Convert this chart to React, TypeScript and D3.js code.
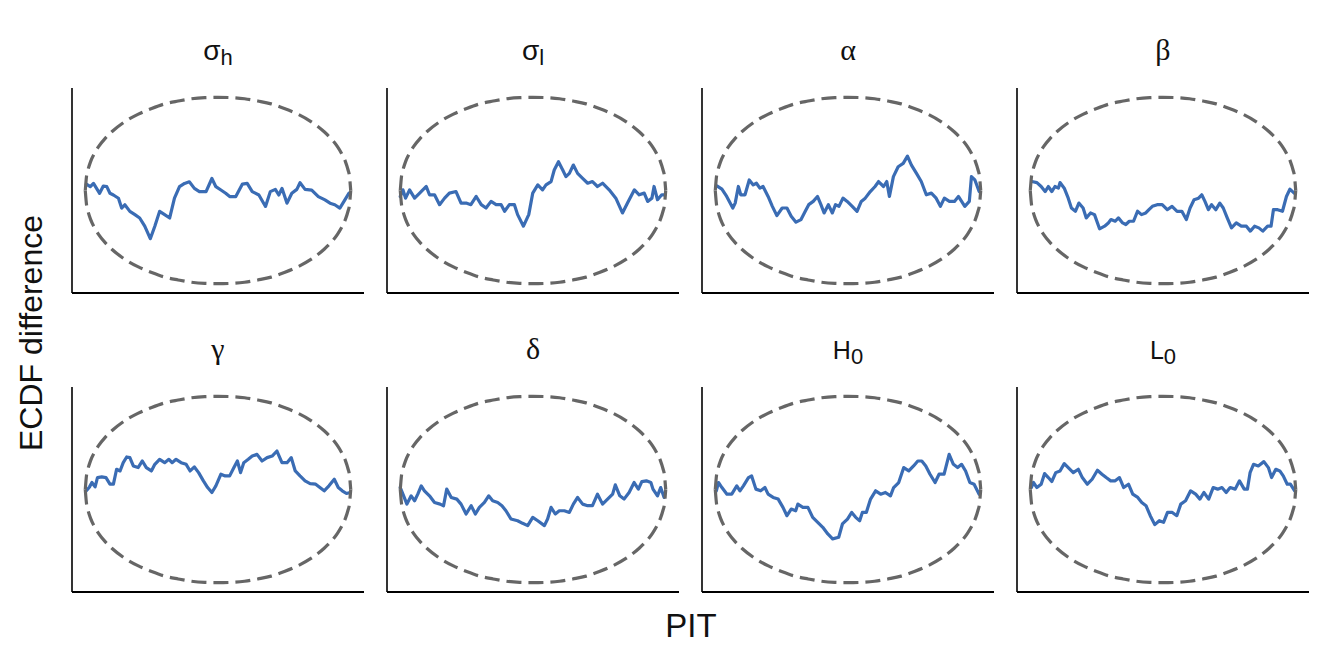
import React from "react";
import * as d3 from "d3";

// Panel titles: main symbol + subscript
const panelTitles = ["σ", "σ", "α", "β", "γ", "δ", "H", "L"];
const panelSubs = ["h", "l", "", "", "", "", "0", "0"];

// Simultaneous confidence envelope (normalized so that its peak = 1)
const envX = [0, 0.005, 0.01, 0.02, 0.035, 0.05, 0.075, 0.1, 0.15, 0.2, 0.25, 0.3, 0.35, 0.4, 0.45, 0.5,
  0.55, 0.6, 0.65, 0.7, 0.75, 0.8, 0.85, 0.9, 0.925, 0.95, 0.965, 0.98, 0.99, 0.995, 1];
const envUpper = [0, 0.16, 0.22, 0.31, 0.4, 0.47, 0.56, 0.63, 0.74, 0.82, 0.88, 0.93, 0.96, 0.985, 0.997, 1,
  0.997, 0.985, 0.96, 0.93, 0.88, 0.82, 0.74, 0.63, 0.56, 0.47, 0.4, 0.31, 0.22, 0.16, 0];
const envLower = [0, -0.16, -0.22, -0.31, -0.4, -0.47, -0.56, -0.63, -0.74, -0.82, -0.88, -0.93, -0.96, -0.985, -0.997, -1,
  -0.997, -0.985, -0.96, -0.93, -0.88, -0.82, -0.74, -0.63, -0.56, -0.47, -0.4, -0.31, -0.22, -0.16, 0];

// ECDF difference traces, [PIT, normalized difference]
const traceSigmaH: [number, number][] = [
  [0.004, 0.069], [0.019, 0.041], [0.031, 0.076], [0.054, -0.03], [0.068, 0.048], [0.081, 0.041], [0.093, -0.03],
  [0.106, -0.048], [0.125, -0.083], [0.137, -0.189], [0.149, -0.153], [0.168, -0.224], [0.187, -0.259], [0.205, -0.295],
  [0.224, -0.383], [0.245, -0.517], [0.262, -0.383], [0.28, -0.224], [0.299, -0.259], [0.318, -0.295], [0.336, -0.083],
  [0.355, 0.041], [0.374, 0.076], [0.392, 0.093], [0.411, 0.023], [0.43, -0.012], [0.455, -0.012], [0.477, 0.129],
  [0.492, 0.041], [0.511, 0.005], [0.529, -0.03], [0.544, -0.065], [0.567, -0.065], [0.592, 0.069], [0.61, 0.076],
  [0.629, -0.012], [0.654, -0.048], [0.679, -0.171], [0.697, -0.012], [0.716, 0.012], [0.729, -0.048], [0.741, 0.023],
  [0.76, -0.136], [0.778, -0.03], [0.797, 0.012], [0.809, 0.083], [0.828, 0.012], [0.853, 0.005], [0.878, -0.065],
  [0.903, -0.101], [0.922, -0.136], [0.94, -0.153], [0.959, -0.189], [0.978, -0.101], [0.993, -0.03],
];
const traceSigmaL: [number, number][] = [
  [0.0, -0.064], [0.01, 0.007], [0.02, -0.082], [0.035, 0.007], [0.054, -0.082], [0.073, -0.028], [0.085, 0.007],
  [0.098, 0.043], [0.11, -0.046], [0.129, -0.046], [0.148, -0.152], [0.167, -0.082], [0.185, -0.028], [0.21, -0.011],
  [0.229, -0.135], [0.248, -0.135], [0.266, -0.152], [0.286, -0.064], [0.305, -0.152], [0.323, -0.188], [0.342, -0.117],
  [0.361, -0.152], [0.38, -0.152], [0.393, -0.223], [0.411, -0.152], [0.43, -0.152], [0.442, -0.259], [0.464, -0.383],
  [0.484, -0.259], [0.499, -0.028], [0.518, 0.06], [0.536, 0.007], [0.549, 0.06], [0.568, 0.096], [0.58, 0.22],
  [0.596, 0.309], [0.612, 0.22], [0.624, 0.149], [0.637, 0.184], [0.652, 0.273], [0.668, 0.184], [0.687, 0.131],
  [0.706, 0.078], [0.724, 0.096], [0.743, 0.043], [0.762, 0.078], [0.787, 0.007], [0.812, -0.082], [0.837, -0.241],
  [0.856, -0.135], [0.882, 0.007], [0.9, -0.046], [0.919, -0.028], [0.932, -0.117], [0.948, -0.082], [0.956, 0.043],
  [0.969, -0.099], [0.985, -0.046], [0.997, -0.046],
];
const traceAlpha: [number, number][] = [
  [0.006, 0.05], [0.025, 0.014], [0.043, -0.064], [0.066, -0.188], [0.075, -0.135], [0.087, 0.043], [0.096, -0.046],
  [0.112, -0.046], [0.128, 0.113], [0.143, 0.06], [0.155, 0.078], [0.168, 0.025], [0.18, 0.043], [0.199, -0.064],
  [0.215, -0.17], [0.232, -0.27], [0.252, -0.188], [0.27, -0.188], [0.286, -0.277], [0.304, -0.34], [0.323, -0.312],
  [0.339, -0.223], [0.352, -0.152], [0.369, -0.117], [0.385, -0.064], [0.398, -0.152], [0.41, -0.241], [0.426, -0.152],
  [0.441, -0.241], [0.453, -0.152], [0.466, -0.17], [0.481, -0.082], [0.497, -0.117], [0.516, -0.17], [0.534, -0.223],
  [0.55, -0.117], [0.565, -0.082], [0.584, -0.011], [0.602, 0.043], [0.615, 0.096], [0.634, 0.043], [0.646, 0.096],
  [0.656, -0.064], [0.671, 0.149], [0.689, 0.255], [0.708, 0.291], [0.724, 0.369], [0.739, 0.273], [0.758, 0.184],
  [0.776, 0.096], [0.795, -0.046], [0.814, -0.028], [0.832, -0.082], [0.848, -0.17], [0.863, -0.082], [0.882, -0.117],
  [0.901, -0.117], [0.916, -0.064], [0.928, -0.117], [0.94, -0.17], [0.957, -0.117], [0.965, 0.149], [0.978, 0.113],
  [0.994, -0.011],
];
const traceBeta: [number, number][] = [
  [0.006, 0.096], [0.025, 0.085], [0.041, 0.043], [0.056, -0.011], [0.068, 0.043], [0.081, -0.011], [0.093, 0.043],
  [0.106, 0.025], [0.112, 0.085], [0.128, 0.025], [0.143, -0.082], [0.155, -0.188], [0.17, -0.223], [0.183, -0.135],
  [0.199, -0.188], [0.211, -0.294], [0.227, -0.241], [0.242, -0.259], [0.261, -0.411], [0.28, -0.383], [0.294, -0.348],
  [0.304, -0.312], [0.32, -0.33], [0.332, -0.294], [0.348, -0.348], [0.36, -0.365], [0.373, -0.33], [0.389, -0.33],
  [0.404, -0.223], [0.419, -0.259], [0.435, -0.241], [0.447, -0.206], [0.46, -0.17], [0.478, -0.152], [0.497, -0.152],
  [0.516, -0.206], [0.534, -0.17], [0.553, -0.223], [0.571, -0.223], [0.588, -0.312], [0.602, -0.188], [0.617, -0.099],
  [0.634, -0.082], [0.646, -0.046], [0.658, -0.117], [0.671, -0.206], [0.683, -0.152], [0.699, -0.206], [0.714, -0.135],
  [0.727, -0.188], [0.742, -0.294], [0.758, -0.401], [0.776, -0.348], [0.795, -0.383], [0.814, -0.383], [0.829, -0.436],
  [0.845, -0.383], [0.861, -0.401], [0.876, -0.436], [0.894, -0.383], [0.907, -0.383], [0.916, -0.206], [0.932, -0.206],
  [0.95, -0.223], [0.965, -0.064], [0.978, 0.014], [0.994, -0.028],
];
const traceGamma: [number, number][] = [
  [0.004, -0.014], [0.016, 0.028], [0.025, 0.075], [0.037, 0.028], [0.046, 0.128], [0.062, 0.135], [0.078, 0.128],
  [0.093, 0.057], [0.106, 0.057], [0.118, 0.217], [0.131, 0.199], [0.143, 0.288], [0.156, 0.349], [0.168, 0.342],
  [0.181, 0.253], [0.199, 0.235], [0.215, 0.306], [0.23, 0.235], [0.249, 0.199], [0.262, 0.27], [0.28, 0.324],
  [0.299, 0.288], [0.315, 0.324], [0.327, 0.288], [0.342, 0.324], [0.361, 0.288], [0.38, 0.27], [0.395, 0.199],
  [0.411, 0.242], [0.427, 0.181], [0.445, 0.093], [0.461, 0.021], [0.477, -0.032], [0.492, 0.039], [0.511, 0.164],
  [0.527, 0.146], [0.544, 0.146], [0.56, 0.235], [0.573, 0.306], [0.585, 0.181], [0.597, 0.288], [0.614, 0.324],
  [0.629, 0.359], [0.647, 0.377], [0.666, 0.306], [0.685, 0.342], [0.704, 0.359], [0.722, 0.413], [0.741, 0.288],
  [0.76, 0.288], [0.776, 0.342], [0.791, 0.199], [0.809, 0.146], [0.828, 0.093], [0.847, 0.064], [0.868, 0.057],
  [0.884, 0.021], [0.9, -0.014], [0.918, 0.039], [0.938, 0.11], [0.953, 0.021], [0.968, -0.014], [0.984, -0.043],
  [0.998, -0.032],
];
const traceDelta: [number, number][] = [
  [0.0, 0.021], [0.01, -0.05], [0.025, -0.157], [0.041, -0.068], [0.054, -0.121], [0.066, -0.05], [0.079, 0.039],
  [0.091, -0.014], [0.11, -0.068], [0.129, -0.139], [0.15, -0.157], [0.163, -0.174], [0.175, 0.004], [0.192, -0.085],
  [0.213, -0.103], [0.229, -0.157], [0.248, -0.263], [0.267, -0.174], [0.283, -0.263], [0.298, -0.192], [0.317, -0.139],
  [0.333, -0.068], [0.348, -0.121], [0.367, -0.139], [0.383, -0.174], [0.398, -0.228], [0.417, -0.317], [0.442, -0.335],
  [0.461, -0.363], [0.48, -0.388], [0.499, -0.299], [0.518, -0.335], [0.543, -0.388], [0.555, -0.317], [0.568, -0.192],
  [0.584, -0.263], [0.599, -0.228], [0.618, -0.228], [0.637, -0.246], [0.652, -0.157], [0.668, -0.085], [0.687, -0.157],
  [0.706, -0.174], [0.724, -0.174], [0.743, -0.05], [0.762, -0.157], [0.781, -0.103], [0.8, -0.05], [0.81, 0.05],
  [0.827, -0.068], [0.843, -0.103], [0.862, -0.032], [0.881, 0.075], [0.897, 0.004], [0.91, 0.085], [0.927, 0.093],
  [0.944, 0.075], [0.952, 0.004], [0.969, -0.068], [0.981, 0.021], [0.994, -0.085],
];
const traceH0: [number, number][] = [
  [0.004, -0.014], [0.012, 0.075], [0.025, 0.021], [0.044, -0.05], [0.062, -0.05], [0.081, 0.039], [0.093, -0.014],
  [0.106, 0.039], [0.125, 0.128], [0.137, 0.146], [0.153, 0.004], [0.171, -0.014], [0.187, 0.021], [0.199, -0.05],
  [0.218, -0.085], [0.237, -0.103], [0.255, -0.192], [0.27, -0.281], [0.286, -0.21], [0.303, -0.228], [0.311, -0.157],
  [0.33, -0.192], [0.349, -0.192], [0.367, -0.299], [0.386, -0.352], [0.405, -0.406], [0.424, -0.477], [0.442, -0.53],
  [0.465, -0.512], [0.479, -0.37], [0.498, -0.317], [0.514, -0.246], [0.529, -0.299], [0.544, -0.335], [0.554, -0.246],
  [0.569, -0.246], [0.585, -0.103], [0.604, -0.014], [0.623, -0.05], [0.641, -0.032], [0.66, -0.068], [0.672, 0.021],
  [0.691, 0.075], [0.71, 0.235], [0.729, 0.199], [0.747, 0.253], [0.763, 0.306], [0.778, 0.306], [0.793, 0.253],
  [0.809, 0.164], [0.828, 0.075], [0.843, 0.164], [0.862, 0.164], [0.881, 0.377], [0.897, 0.27], [0.913, 0.235],
  [0.928, 0.27], [0.943, 0.199], [0.959, 0.075], [0.975, 0.057], [0.994, -0.05],
];
const traceL0: [number, number][] = [
  [0.004, 0.021], [0.012, 0.075], [0.025, 0.021], [0.041, 0.057], [0.054, 0.171], [0.068, 0.128], [0.081, 0.085],
  [0.096, 0.181], [0.112, 0.199], [0.128, 0.278], [0.143, 0.235], [0.162, 0.181], [0.181, 0.217], [0.196, 0.128],
  [0.215, 0.057], [0.233, 0.11], [0.253, 0.206], [0.27, 0.164], [0.286, 0.128], [0.303, 0.093], [0.32, 0.093],
  [0.336, 0.128], [0.352, 0.021], [0.37, 0.057], [0.386, -0.05], [0.405, -0.085], [0.42, -0.139], [0.436, -0.174],
  [0.452, -0.281], [0.469, -0.377], [0.486, -0.335], [0.502, -0.352], [0.517, -0.246], [0.535, -0.246], [0.552, -0.281],
  [0.567, -0.157], [0.585, -0.121], [0.604, -0.014], [0.623, -0.05], [0.639, -0.103], [0.654, -0.032], [0.672, -0.103],
  [0.689, 0.021], [0.706, 0.004], [0.722, 0.021], [0.738, -0.032], [0.753, 0.021], [0.772, 0.004], [0.788, 0.093],
  [0.806, 0.004], [0.818, 0.004], [0.828, 0.181], [0.841, 0.27], [0.859, 0.253], [0.88, 0.299], [0.897, 0.235],
  [0.909, 0.128], [0.925, 0.217], [0.94, 0.199], [0.953, 0.146], [0.968, 0.057], [0.98, 0.057], [0.996, -0.014],
];

const traces = [traceSigmaH, traceSigmaL, traceAlpha, traceBeta, traceGamma, traceDelta, traceH0, traceL0];

// Layout
const WIDTH = 1329;
const HEIGHT = 664;
const COL_LEFT = 72;
const COL_STEP = 315;
const PANEL_W = 292;
const ROW_TOPS = [88, 387];
const PANEL_H = 205;
const SANS = "'Liberation Sans', Arial, Helvetica, sans-serif";
const SERIF = "'Liberation Serif', 'Times New Roman', serif";
const BLUE = "#3a6cb4";
const GRAY = "#666666";

function Panel({ index }: { index: number }) {
  const col = index % 4;
  const row = Math.floor(index / 4);
  const left = COL_LEFT + col * COL_STEP;
  const top = ROW_TOPS[row];
  const x = d3.scaleLinear().domain([-0.05, 1.05]).range([left, left + PANEL_W]);
  const y = d3.scaleLinear().domain([-1.1, 1.1]).range([top + PANEL_H, top]);

  const line = d3
    .line<[number, number]>()
    .x((d) => x(d[0]))
    .y((d) => y(d[1]));
  const envLine = d3
    .line<number>()
    .x((_, i) => x(envX[i]))
    .y((d) => y(d))
    .curve(d3.curveMonotoneX);

  const main = panelTitles[index];
  const sub = panelSubs[index];
  const isSerifGreek = /[αβγδ]/.test(main);
  const isGreek = /[α-ω]/.test(main);
  const cx = left + PANEL_W / 2;

  return (
    <g>
      <path d={line(traces[index]) || ""} fill="none" stroke={BLUE} strokeWidth={3.2} strokeLinejoin="round" strokeLinecap="round" />
      <path d={envLine(envUpper) || ""} fill="none" stroke={GRAY} strokeWidth={3.2} strokeDasharray="15 7" />
      <path d={envLine(envLower) || ""} fill="none" stroke={GRAY} strokeWidth={3.2} strokeDasharray="15 7" />
      <line x1={left} x2={left} y1={top} y2={top + PANEL_H} stroke="#000" strokeWidth={1.6} />
      <line x1={left} x2={left + PANEL_W} y1={top + PANEL_H} y2={top + PANEL_H} stroke="#000" strokeWidth={1.8} />
      <text x={cx} y={top - 28} textAnchor="middle" fill="#111">
        <tspan
          fontFamily={isSerifGreek ? SERIF : SANS}
          fontSize={isSerifGreek ? 30 : isGreek ? 28 : 25}
        >
          {main}
        </tspan>
        {sub ? (
          <tspan fontFamily={SANS} fontSize={22} dy={5}>
            {sub}
          </tspan>
        ) : null}
      </text>
    </g>
  );
}

export default function App() {
  return (
    <svg
      width={WIDTH}
      height={HEIGHT}
      style={{ position: "absolute", left: 0, top: 0, background: "#fff" }}
    >
      <rect width={WIDTH} height={HEIGHT} fill="#fff" />
      {traces.map((_, i) => (
        <Panel key={i} index={i} />
      ))}
      <text
        transform="translate(42,333) rotate(-90)"
        textAnchor="middle"
        fontFamily={SANS}
        fontSize={32}
        fill="#111"
      >
        ECDF difference
      </text>
      <text x={691} y={637} textAnchor="middle" fontFamily={SANS} fontSize={33} fill="#111">
        PIT
      </text>
    </svg>
  );
}
